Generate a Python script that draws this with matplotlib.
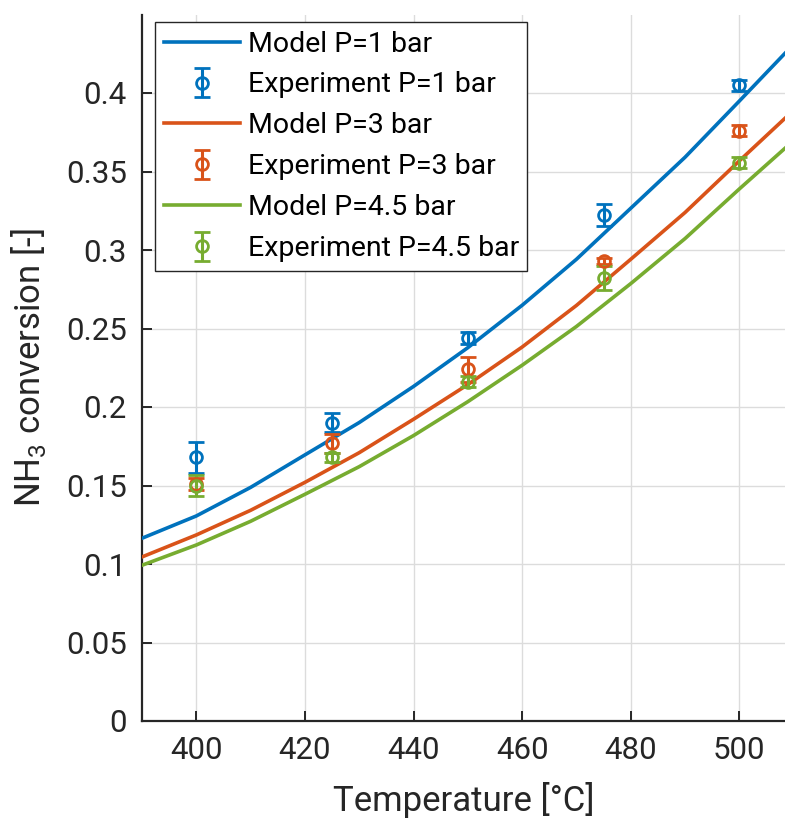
import matplotlib
matplotlib.use("Agg")
import matplotlib.pyplot as plt

plt.rcParams['font.family'] = ['Roboto', 'DejaVu Sans']
plt.rcParams['mathtext.fontset'] = 'custom'
plt.rcParams['mathtext.rm'] = 'Roboto'

# Model predictions (temperature in °C, NH3 conversion)
model_T = [390, 400, 410, 420, 430, 440, 450, 460, 470, 480, 490, 500, 508.4]
model_p1 = [0.1164, 0.1306, 0.1488, 0.1695, 0.1901, 0.2131, 0.2378, 0.2648,
            0.2941, 0.3266, 0.3591, 0.3949, 0.4253]
model_p3 = [0.1045, 0.1185, 0.1342, 0.1520, 0.1709, 0.1922, 0.2143, 0.2382,
            0.2647, 0.2941, 0.3239, 0.3568, 0.3839]
model_p45 = [0.0992, 0.1121, 0.1272, 0.1444, 0.1620, 0.1818, 0.2034, 0.2266,
             0.2513, 0.2786, 0.3073, 0.3389, 0.3648]

# Experimental measurements with error bars
exp_T = [400, 425, 450, 475, 500]
exp_p1 = [0.168, 0.190, 0.244, 0.322, 0.405]
err_p1 = [0.010, 0.006, 0.004, 0.007, 0.0035]
exp_p3 = [0.151, 0.177, 0.224, 0.293, 0.376]
err_p3 = [0.004, 0.006, 0.008, 0.002, 0.0034]
exp_p45 = [0.150, 0.168, 0.216, 0.282, 0.3556]
err_p45 = [0.0066, 0.003, 0.0035, 0.0075, 0.0034]

labels = ['P=1 bar', 'P=3 bar', 'P=4.5 bar']
colors = ['#0072BD', '#D95319', '#77AC30']

x_ticks = [400, 420, 440, 460, 480, 500]
y_ticks = [0, 0.05, 0.1, 0.15, 0.2, 0.25, 0.3, 0.35, 0.4]
y_ticklabels = ['0', '0.05', '0.1', '0.15', '0.2', '0.25', '0.3', '0.35', '0.4']

fig = plt.figure(figsize=(7.85, 8.23), dpi=100)
ax = fig.add_axes([142 / 785, 102 / 823, 643 / 785, 706.5 / 823])

dark = '#262626'
models = [model_p1, model_p3, model_p45]
exps = [(exp_p1, err_p1), (exp_p3, err_p3), (exp_p45, err_p45)]
handles = []
for lab, col, m, (e, er) in zip(labels, colors, models, exps):
    ln, = ax.plot(model_T, m, color=col, lw=2.6, label='Model ' + lab, zorder=3)
    eb = ax.errorbar(exp_T, e, yerr=er, fmt='o', color=col, mfc='none', mec=col,
                     mew=2.0, ms=8.5, elinewidth=2.2, capsize=6, capthick=2.2,
                     label='Experiment ' + lab, zorder=4)
    handles += [ln, eb]

ax.set_xlim(390, 508.4)
ax.set_ylim(0, 0.45)
ax.set_xticks(x_ticks)
ax.set_yticks(y_ticks)
ax.set_yticklabels(y_ticklabels)

ax.grid(True, color='#dcdcdc', lw=1.0)
ax.set_axisbelow(True)
for s in ['top', 'right']:
    ax.spines[s].set_visible(False)
for s in ['left', 'bottom']:
    ax.spines[s].set_color(dark)
    ax.spines[s].set_linewidth(1.6)
ax.tick_params(direction='in', length=7, width=1.4, colors=dark,
               labelsize=22.5, pad=11)

ax.set_xlabel('Temperature [°C]', fontsize=25, color=dark, labelpad=12)
ax.set_ylabel('NH$_3$ conversion [-]', fontsize=25, color=dark, labelpad=13)

leg = ax.legend(handles=handles, labels=[h.get_label() for h in handles],
                loc='upper left', bbox_to_anchor=(13 / 643, 699 / 706.5),
                borderaxespad=0, fontsize=20.5, handlelength=2.7,
                handletextpad=0.25, labelspacing=0.49, borderpad=0.3,
                fancybox=False, framealpha=1, edgecolor=dark)
leg.get_frame().set_linewidth(1.0)
for t in leg.get_texts():
    t.set_color('black')

fig.savefig('out.png', dpi=100)
